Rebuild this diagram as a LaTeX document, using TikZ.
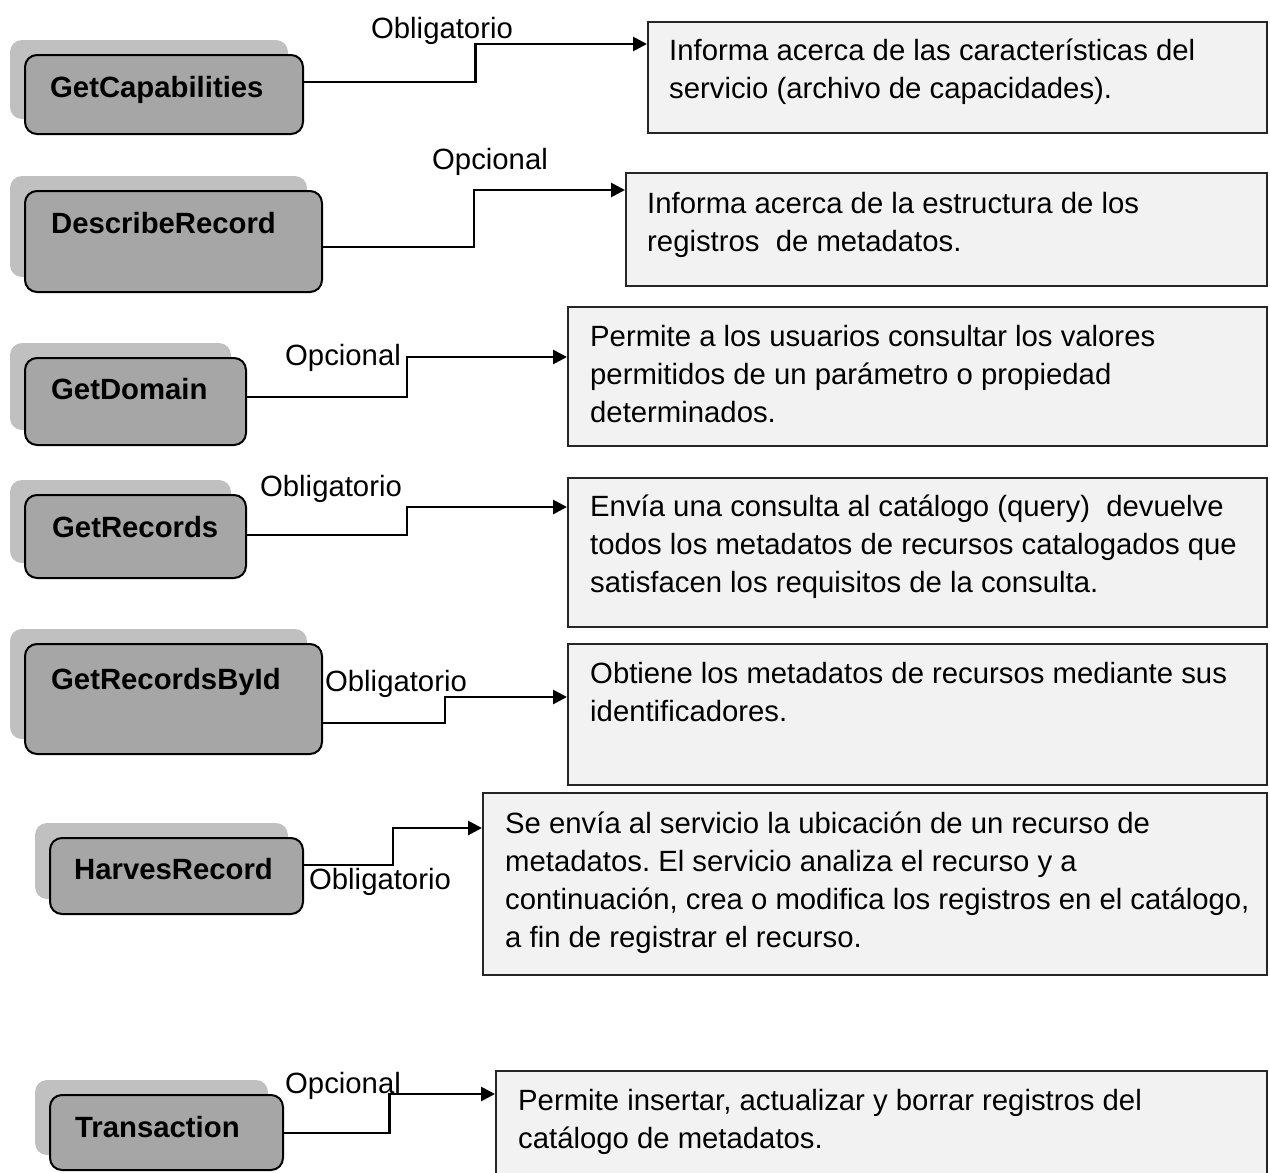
\documentclass[tikz,border=0pt]{standalone}
\usepackage{fontspec}
\setmainfont{Liberation Sans}
\usetikzlibrary{arrows.meta,calc}
\definecolor{shadowgray}{HTML}{C0C0C0}
\definecolor{opgray}{HTML}{A6A6A6}
\definecolor{descgray}{HTML}{F2F2F2}
\newcommand\mainsz{\fontsize{29.3}{38}\selectfont}
\newcommand\desclines[1]{\parbox[t]{770pt}{\raggedright #1}}
\frenchspacing
\tikzset{
  shadowbox/.style={rectangle, rounded corners=12pt, fill=shadowgray, draw=none, inner sep=0pt},
  opbox/.style={rectangle, rounded corners=12pt, fill=opgray, draw=black, line width=2pt, inner sep=0pt},
  descbox/.style={rectangle, fill=descgray, draw=black!85, line width=2pt, inner sep=0pt},
  optext/.style={font=\mainsz\bfseries, inner sep=0pt, anchor=base west},
  desctext/.style={font=\mainsz, inner sep=0pt, anchor=base west},
  reqlabel/.style={font=\mainsz, inner sep=0pt, anchor=base},
  conn/.style={line width=2.8pt, -{Triangle[length=14pt,width=14pt]}},
}
\begin{document}
\begin{tikzpicture}[x=1pt,y=-1pt]
\useasboundingbox (0,0) rectangle (1270,1173);
\clip (0,0) rectangle (1270,1173);

% ---------- operation boxes (shadow + main) ----------
\node[shadowbox, minimum width=278pt, minimum height=79pt]  (s1) at (149,79.5) {};
\node[opbox,     minimum width=278pt, minimum height=79pt]  (g1) at (164,94.5) {};
\node[optext] (l1) at (50,97) {GetCapabilities};

\node[shadowbox, minimum width=297pt, minimum height=101pt] (s2) at (158.5,226.5) {};
\node[opbox,     minimum width=297pt, minimum height=101pt] (g2) at (173.5,241.5) {};
\node[optext] (l2) at (51,233) {DescribeRecord};

\node[shadowbox, minimum width=221pt, minimum height=87pt]  (s3) at (120.5,386.5) {};
\node[opbox,     minimum width=221pt, minimum height=87pt]  (g3) at (135.5,401.5) {};
\node[optext] (l3) at (51,399) {GetDomain};

\node[shadowbox, minimum width=221pt, minimum height=83pt]  (s4) at (120.5,521.5) {};
\node[opbox,     minimum width=221pt, minimum height=83pt]  (g4) at (135.5,536.5) {};
\node[optext] (l4) at (52,537) {GetRecords};

\node[shadowbox, minimum width=297pt, minimum height=110pt] (s5) at (158.5,684) {};
\node[opbox,     minimum width=297pt, minimum height=110pt] (g5) at (173.5,699) {};
\node[optext] (l5) at (51,689) {GetRecordsById};

\node[shadowbox, minimum width=253pt, minimum height=76pt]  (s6) at (161.5,861) {};
\node[opbox,     minimum width=253pt, minimum height=76pt]  (g6) at (176.5,876) {};
\node[optext] (l6) at (74,879) {HarvesRecord};

\node[shadowbox, minimum width=233pt, minimum height=75pt]  (s7) at (151.5,1117.5) {};
\node[opbox,     minimum width=233pt, minimum height=75pt]  (g7) at (166.5,1132.5) {};
\node[optext] (l7) at (75,1137) {Transaction};

% ---------- description boxes ----------
\node[descbox, minimum width=619pt, minimum height=111pt] (d1) at (957.5,77.5) {};
\node[desctext] (t1) at (669,60) {\desclines{Informa acerca de las características del\\servicio (archivo de capacidades).}};

\node[descbox, minimum width=641pt, minimum height=113pt] (d2) at (946.5,229.5) {};
\node[desctext] (t2) at (647,213) {\desclines{Informa acerca de la estructura de los\\registros\ \ de metadatos.}};

\node[descbox, minimum width=699pt, minimum height=139pt] (d3) at (917.5,376.5) {};
\node[desctext] (t3) at (590,346) {\desclines{Permite a los usuarios consultar los valores\\permitidos de un parámetro o propiedad\\determinados.}};

\node[descbox, minimum width=699pt, minimum height=149pt] (d4) at (917.5,552.5) {};
\node[desctext] (t4) at (590,516) {\desclines{Envía una consulta al catálogo (query)\ \ devuelve\\todos los metadatos de recursos catalogados que\\satisfacen los requisitos de la consulta.}};

\node[descbox, minimum width=699pt, minimum height=141pt] (d5) at (917.5,714.5) {};
\node[desctext] (t5) at (590,683) {\desclines{Obtiene los metadatos de recursos mediante sus\\identificadores.}};

\node[descbox, minimum width=784pt, minimum height=182pt] (d6) at (875,884) {};
\node[desctext] (t6) at (505,833) {\desclines{Se envía al servicio la ubicación de un recurso de\\metadatos. El servicio analiza el recurso y a\\continuación, crea o modifica los registros en el catálogo,\\a fin de registrar el recurso.}};

\node[descbox, minimum width=771pt, minimum height=119pt] (d7) at (881.5,1130.5) {};
\node[desctext] (t7) at (518,1110) {\desclines{Permite insertar, actualizar y borrar registros del\\catálogo de metadatos.}};

% ---------- connectors ----------
\coordinate (a1) at ([yshift=12.5pt]g1.east);  \coordinate (b1) at ([yshift=33.5pt]d1.west);
\coordinate (a2) at ([yshift=-5.5pt]g2.east);  \coordinate (b2) at ([yshift=39.5pt]d2.west);
\coordinate (a3) at ([yshift=4.5pt]g3.east);   \coordinate (b3) at ([yshift=19.5pt]d3.west);
\coordinate (a4) at ([yshift=1.5pt]g4.east);   \coordinate (b4) at ([yshift=45.5pt]d4.west);
\coordinate (a5) at ([yshift=-24pt]g5.east);   \coordinate (b5) at ([yshift=17.5pt]d5.west);
\coordinate (a6) at ([yshift=11pt]g6.east);    \coordinate (b6) at ([yshift=56pt]d6.west);
\coordinate (a7) at ([yshift=-0.5pt]g7.east);  \coordinate (b7) at ([yshift=36.5pt]d7.west);

\foreach \i in {1,...,7}{
  \draw[conn] (a\i) -| ($(a\i)!.5!(b\i)$) |- (b\i);
}

% ---------- labels ----------
\node[reqlabel] (r1) at (442,38) {Obligatorio};
\node[reqlabel] (r2) at (490,169) {Opcional};
\node[reqlabel] (r3) at (343,365) {Opcional};
\node[reqlabel] (r4) at (331,496) {Obligatorio};
\node[reqlabel] (r5) at (396,691) {Obligatorio};
\node[reqlabel] (r6) at (380,889) {Obligatorio};
\node[reqlabel] (r7) at (343,1093) {Opcional};
\end{tikzpicture}
\end{document}
